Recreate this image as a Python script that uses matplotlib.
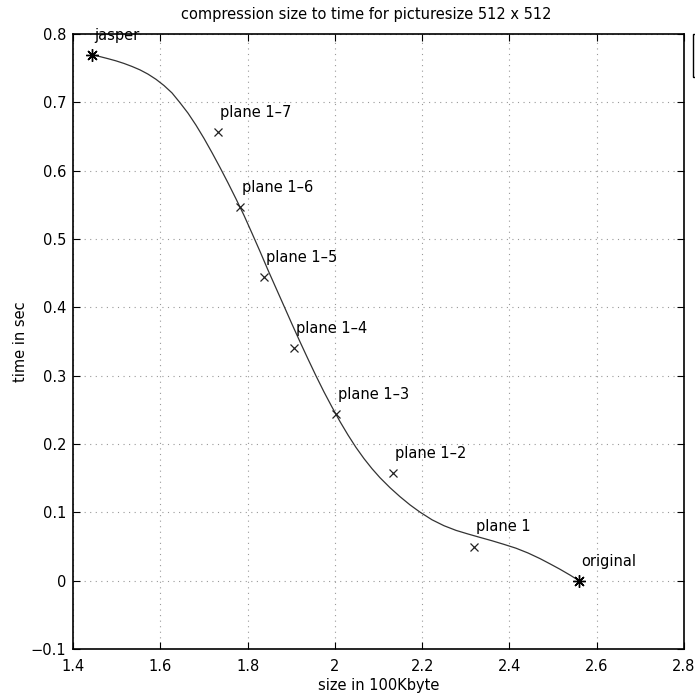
import matplotlib
matplotlib.use("Agg")
import matplotlib.pyplot as plt
from matplotlib.patches import Rectangle

plt.rcParams['font.family'] = ['DejaVu Sans']

# measured points
labels = ["jasper", "plane 1–7", "plane 1–6", "plane 1–5", "plane 1–4",
          "plane 1–3", "plane 1–2", "plane 1", "original"]
size_kb = [1.443, 1.732, 1.783, 1.838, 1.906, 2.003, 2.133, 2.319, 2.560]
time_s = [0.769, 0.657, 0.547, 0.444, 0.340, 0.244, 0.158, 0.050, 0.000]

# fitted curve
curve_x = [1.4435, 1.4619, 1.4802, 1.4985, 1.5169, 1.5352, 1.5535, 1.5718,
           1.5902, 1.6085, 1.6268, 1.6452, 1.6635, 1.6818, 1.7002, 1.7185,
           1.7368, 1.7552, 1.7735, 1.7918, 1.8101, 1.8285, 1.8468, 1.8651,
           1.8835, 1.9018, 1.9201, 1.9385, 1.9568, 1.9751, 1.9935, 2.0118,
           2.0301, 2.0484, 2.0668, 2.0851, 2.1034, 2.1263, 2.1493, 2.1722,
           2.1951, 2.2226, 2.2501, 2.2776, 2.3051, 2.3326, 2.3601, 2.3876,
           2.4151, 2.4426, 2.4700, 2.4930, 2.5159, 2.5388, 2.5594]
curve_y = [0.7698, 0.7669, 0.7639, 0.7607, 0.7569, 0.7525, 0.7475, 0.7413,
           0.7337, 0.7246, 0.7138, 0.6994, 0.6842, 0.6666, 0.6472, 0.6264,
           0.6047, 0.5821, 0.5587, 0.5346, 0.5085, 0.4818, 0.4545, 0.4282,
           0.4018, 0.3754, 0.3496, 0.3243, 0.2997, 0.2762, 0.2540, 0.2328,
           0.2132, 0.1950, 0.1786, 0.1639, 0.1507, 0.1361, 0.1229, 0.1109,
           0.1003, 0.0891, 0.0804, 0.0736, 0.0683, 0.0633, 0.0584, 0.0531,
           0.0475, 0.0405, 0.0323, 0.0246, 0.0167, 0.0082, 0.0000]

xticks = [1.4, 1.6, 1.8, 2.0, 2.2, 2.4, 2.6, 2.8]
xticklabels = ["1.4", "1.6", "1.8", "2", "2.2", "2.4", "2.6", "2.8"]
yticks = [-0.1, 0, 0.1, 0.2, 0.3, 0.4, 0.5, 0.6, 0.7, 0.8]
yticklabels = ["−0.1", "0", "0.1", "0.2", "0.3", "0.4", "0.5", "0.6", "0.7", "0.8"]

W, H = 695, 696
fig = plt.figure(figsize=(W / 100, H / 100), dpi=100)
ax = fig.add_axes([73 / W, 1 - 649 / H, (684 - 73) / W, (649 - 34) / H])

ax.plot(curve_x, curve_y, color='#333333', lw=0.9, zorder=3)
ax.plot(size_kb[1:-1], time_s[1:-1], 'x', color='#222222', ms=6, mew=0.9, zorder=4)
ax.plot([size_kb[0], size_kb[-1]], [time_s[0], time_s[-1]], linestyle='none',
        marker=(8, 2, 0), color='black', ms=9, mew=1.0, zorder=4)

for lab, xv, yv in zip(labels, size_kb, time_s):
    ax.annotate(lab, (xv, yv), xytext=(2, 12), textcoords='offset pixels',
                ha='left', va='bottom', fontsize=10.5, color='black')

ax.set_xlim(1.4, 2.8)
ax.set_ylim(-0.1, 0.8)
ax.set_xticks(xticks)
ax.set_xticklabels(xticklabels)
ax.set_yticks(yticks)
ax.set_yticklabels(yticklabels)
ax.tick_params(direction='in', top=True, right=True, length=5, labelsize=10.5,
               width=0.8)
ax.tick_params(axis='x', pad=7)
ax.tick_params(axis='y', pad=5)
ax.grid(True, linestyle=(0, (1, 4)), color='#999999', lw=0.8)
for s in ax.spines.values():
    s.set_linewidth(1.2)

ax.set_xlabel("size in 100Kbyte", fontsize=10.5, labelpad=3)
ax.set_ylabel("time in sec", fontsize=10.5, labelpad=2)
fig.text(366 / W, 1 - 14 / H, "compression size to time for picturesize 512 x 512",
         ha='center', va='center', fontsize=10.5)

# partially visible legend box at right edge
fig.patches.append(Rectangle((693 / W, 1 - 77 / H), 0.05, 43 / H,
                             transform=fig.transFigure, fill=False,
                             edgecolor='black', lw=1.0))

fig.savefig("out.png", dpi=100)
